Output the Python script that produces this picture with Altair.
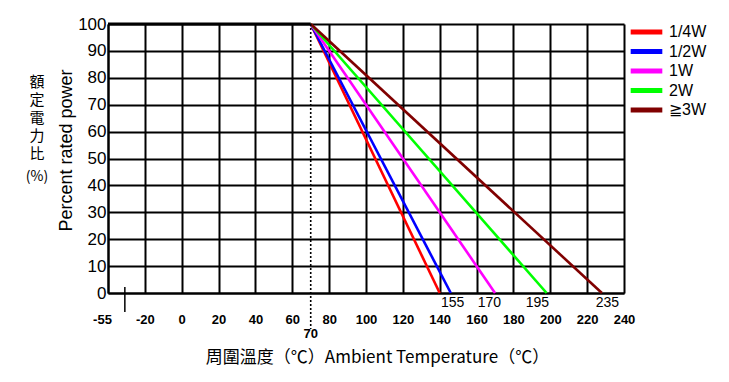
import altair as alt
import pandas as pd

# ---- data ----
series = ["1/4W", "1/2W", "1W", "2W", "≧3W"]
colors = ["#ff0000", "#0000ff", "#ff00ff", "#00ff00", "#800000"]
start_temp = 70
start_power = 100
end_temps = [140, 146, 170, 198, 228]      # where each drawn line reaches 0 %
x_ticks = [-55, -20, 0, 20, 40, 60, 80, 100, 120, 140, 160, 180, 200, 220, 240]
y_ticks = [0, 10, 20, 30, 40, 50, 60, 70, 80, 90, 100]
end_labels = ["155", "170", "195", "235"]
end_label_x = [147, 167, 193, 231]
flat_x = [-55, 70]
break_x = [-39]
knee_label = ["70"]
vertical_chars = ["額", "定", "電", "力", "比"]

W, H = 516, 269
FONT = "Liberation Sans"
CJK = "Noto Sans CJK TC"

rows = []
for s, e in zip(series, end_temps):
    rows.append({"series": s, "temp": start_temp, "power": start_power, "o": 0})
    rows.append({"series": s, "temp": e, "power": 0, "o": 1})
line_df = pd.DataFrame(rows)

xscale = alt.Scale(domain=[-55, -20, 240], range=[0, W / 14, W], nice=False, zero=False)
yscale = alt.Scale(domain=[0, 100], nice=False, zero=False)

xaxis = alt.Axis(values=x_ticks, grid=True, title="周圍溫度（℃）Ambient Temperature（℃）",
                 labelFontSize=13, labelFontWeight="bold", labelPadding=20,
                 labelExpr="'' + datum.value", labelOverlap=False, labelFlush=False,
                 labelOffset={"condition": {"test": "datum.value == -55", "value": -6}, "value": 0},
                 titleFontSize=17, titlePadding=23,
                 titleFont=CJK, titleFontWeight="normal", titleX=269)
yaxis = alt.Axis(values=y_ticks, grid=True, title="Percent rated power",
                 labelFontSize=17, labelPadding=2, labelOverlap=False, titleFontSize=18,
                 titlePadding=2, titleFontWeight="normal", titleY=126)


def X(field):
    return alt.X(field, scale=xscale, axis=xaxis)


def Y(field):
    return alt.Y(field, scale=yscale, axis=yaxis)


lines = alt.Chart(line_df).mark_line(strokeWidth=2.6).encode(
    x=X("temp:Q"),
    y=Y("power:Q"),
    color=alt.Color("series:N", scale=alt.Scale(domain=series, range=colors),
                    legend=alt.Legend(title=None, orient="none", legendX=520, legendY=0,
                                      symbolType="stroke", symbolStrokeWidth=5,
                                      symbolSize=1000, clipHeight=16, rowPadding=3.5,
                                      labelFontSize=16, labelFont=FONT, labelColor="black",
                                      padding=0, labelOffset=4)),
    detail="series:N",
    order="o:Q",
)

flat = alt.Chart(pd.DataFrame({"x": [flat_x[0]], "x2": [flat_x[1]], "y": [start_power]})).mark_rule(
    color="black", strokeWidth=3).encode(x=X("x:Q"), x2="x2:Q", y=Y("y:Q"))

knee = alt.Chart(pd.DataFrame({"x": [start_temp]})).mark_rule(
    color="black", strokeWidth=1.6, strokeDash=[2, 2]).encode(
    x=X("x:Q"), y=alt.value(0), y2=alt.value(H + 36))

knee_text = alt.Chart(pd.DataFrame({"x": [start_temp], "t": knee_label})).mark_text(
    font=FONT, fontSize=13, fontWeight="bold", color="black", baseline="middle").encode(
    x=X("x:Q"), y=alt.value(H + 41), text="t:N")

end_text = alt.Chart(pd.DataFrame({"x": end_label_x, "t": end_labels})).mark_text(
    font=FONT, fontSize=14, color="black", baseline="middle").encode(
    x=X("x:Q"), y=alt.value(H + 10), text="t:N")

brk = alt.Chart(pd.DataFrame({"x": break_x})).mark_rule(color="black", strokeWidth=1.5).encode(
    x=X("x:Q"), y=alt.value(H - 6), y2=alt.value(H + 19))

cjk1 = alt.Chart(alt.Data(values=[{}])).mark_text(
    font=CJK, fontSize=15, lineHeight=18, color="black", baseline="top", align="center").encode(
    x=alt.value(-71), y=alt.value(51), text=alt.value(vertical_chars))
cjk2 = alt.Chart(alt.Data(values=[{}])).mark_text(
    font=CJK, fontSize=14, color="black", baseline="middle", align="center").encode(
    x=alt.value(-71), y=alt.value(153), text=alt.value("(%)"))

chart = alt.layer(lines, flat, knee, knee_text, end_text, brk, cjk1, cjk2).properties(
    width=W, height=H,
    autosize=alt.AutoSizeParams(type="none"),
    padding={"left": 100, "top": 16, "right": 97, "bottom": 88},
    background="white",
).configure_axis(
    gridColor="black", gridWidth=2, gridOpacity=1, domainColor="black", domainWidth=2,
    ticks=False, tickSize=0, labelFont=FONT, labelColor="black", titleFont=FONT,
    titleColor="black",
).configure_view(stroke=None)

chart.save("out.html", embed_options={"renderer": "svg", "actions": False})
